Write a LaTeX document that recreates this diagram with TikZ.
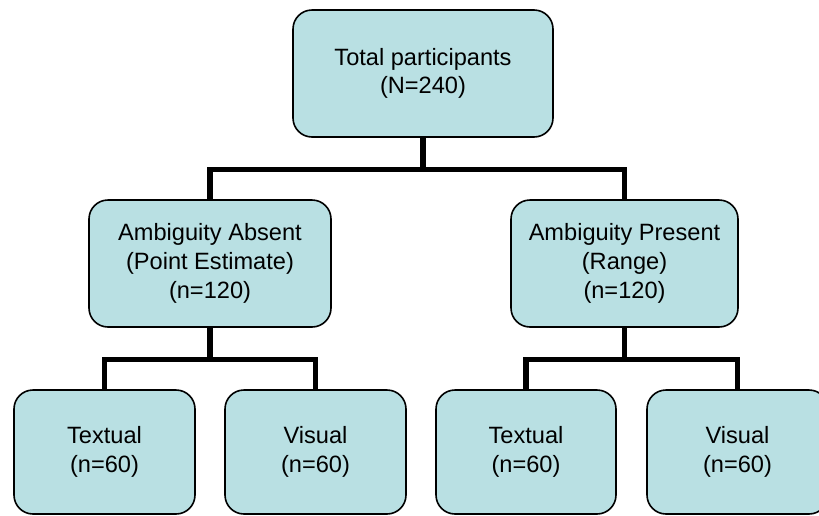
\documentclass[tikz,border=0pt]{standalone}
\usepackage{fontspec}
\setmainfont{Liberation Sans}
\definecolor{boxfill}{RGB}{185,224,227}
\begin{document}
\begin{tikzpicture}[x=1pt,y=-1pt,
  box/.style={draw=black, line width=1.6pt, fill=boxfill, rounded corners=19pt,
    align=center, inner sep=0pt, font=\fontsize{23.6}{28.7}\selectfont},
  conn/.style={line width=5.5pt, line join=miter, line cap=butt}]
\useasboundingbox (0,0) rectangle (819,515);
\clip (0,0) rectangle (819,515);
\node[box, minimum width=260pt, minimum height=127pt] (top) at (423,73.5) {Total participants\\(N=240)};
\node[box, minimum width=242pt, minimum height=127pt] (mA) at (210,263.5) {Ambiguity Absent\\(Point Estimate)\\(n=120)};
\node[box, minimum width=227pt, minimum height=127pt] (mP) at (624.5,263.5) {Ambiguity Present\\(Range)\\(n=120)};
\node[box, minimum width=181pt, minimum height=124pt] (b1) at (104.5,452) {Textual\\(n=60)};
\node[box, minimum width=181pt, minimum height=124pt] (b2) at (315.5,452) {Visual\\(n=60)};
\node[box, minimum width=180pt, minimum height=124pt] (b3) at (526,452) {Textual\\(n=60)};
\node[box, minimum width=181pt, minimum height=124pt] (b4) at (737.5,452) {Visual\\(n=60)};
\draw[conn] (top.south) -- ++(0,31.5) coordinate (j0);
\draw[conn] (mA.north) |- (j0) -| (mP.north);
\draw[conn] (mA.south) -- ++(0,31.5) coordinate (j1);
\draw[conn] (b1.north) |- (j1) -| (b2.north);
\draw[conn] (mP.south) -- ++(0,31.5) coordinate (j2);
\draw[conn] (b3.north) |- (j2) -| (b4.north);
\end{tikzpicture}
\end{document}
